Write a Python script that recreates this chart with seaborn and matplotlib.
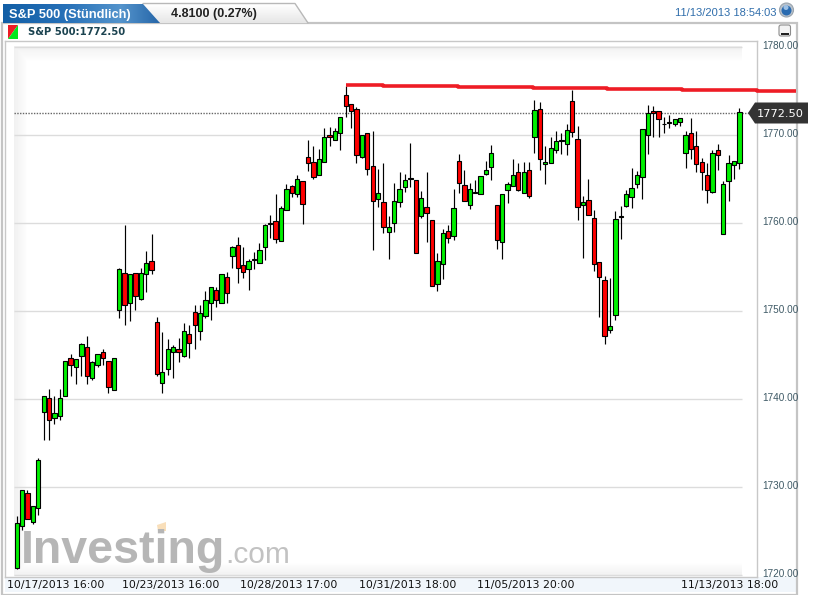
import numpy as np
import pandas as pd
import seaborn as sns
import matplotlib.pyplot as plt
from matplotlib.patches import Polygon, Rectangle, Circle, FancyBboxPatch
from matplotlib.transforms import ScaledTranslation

# Hourly candles
opens = [1720.8,1725.6,1729.3,1726.1,1727.6,1738.6,1740.2,1737.85,1738.15,1740.35,
         1744.65,1743.7,1744.9,1745.9,1742.4,1743.85,1745.35,1744.4,1741.1,1750.2,
         1754.4,1750.9,1754.4,1751.35,1754.2,1755.7,1748.75,1741.8,1743.4,1745.41,
         1745.68,1744.88,1747.38,1749.88,1747.72,1749.43,1750.9,1752.38,1750.9,1753.86,
         1756.24,1757.49,1755.22,1754.77,1755.79,1755.45,1757.27,1759.96,1760.22,1757.95,
         1761.47,1764.2,1763.29,1764.77,1767.49,1766.92,1765.45,1766.92,1769.99,1769.42,
         1770.22,1774.54,1773.51,1772.95,1767.49,1770.22,1766.47,1762.72,1762.38,1758.97,
         1759.99,1762.38,1764.08,1765.07,1764.88,1760.79,1761.81,1760.33,1753.06,1755.33,
         1759.08,1758.51,1767.04,1764.31,1762.04,1763.48,1763.29,1765.56,1766.36,1762.04,
         1757.87,1763.74,1764.2,1765.79,1763.4,1766.01,1769.76,1772.95,1766.7,1766.81,
         1768.29,1769.39,1768.97,1773.86,1769.54,1762.04,1762.61,1760.56,1755.56,1753.51,
         1747.83,1749.54,1760.75,1761.92,1762.95,1764.42,1765.22,1769.99,1772.72,1772.72,
         1771.28,1771.43,1771.24,1771.47,1767.95,1770.22,1768.74,1766.92,1765.45,1763.51,
         1768.29,1758.74,1764.76,1766.58,1766.81]
closes = [1725.9,1729.65,1726.35,1727.85,1733.05,1740.35,1737.6,1738.4,1740.2,1744.4,
          1743.85,1744.55,1746.25,1742.7,1744.2,1745.2,1744.65,1741.35,1744.65,1754.75,
          1750.7,1754.2,1751.7,1754.4,1755.45,1754.7,1742.85,1743.15,1745.7,1745.9,
          1745.41,1747.72,1746.36,1748.4,1749.77,1751.24,1752.72,1751.24,1754.2,1752.04,
          1757.27,1754.88,1754.43,1755.68,1755.9,1756.93,1759.77,1760.0,1758.18,1761.7,
          1763.93,1763.4,1765.0,1762.15,1766.81,1765.22,1767.26,1769.76,1769.76,1770.45,
          1772.04,1773.29,1772.72,1767.72,1769.99,1766.13,1762.49,1763.4,1759.54,1759.54,
          1762.49,1763.86,1764.88,1765.11,1756.58,1762.83,1761.13,1752.83,1755.67,1758.86,
          1758.29,1761.7,1764.54,1762.49,1763.86,1763.51,1765.33,1766.01,1767.95,1758.06,
          1763.29,1764.42,1765.45,1763.74,1765.79,1763.06,1772.83,1767.26,1766.92,1768.51,
          1769.31,1769.42,1770.56,1770.33,1761.81,1762.38,1760.9,1755.33,1753.86,1747.15,
          1748.29,1760.45,1760.79,1763.29,1763.97,1765.45,1770.68,1772.49,1772.49,1771.81,
          1771.32,1771.47,1771.81,1771.92,1769.99,1768.4,1766.7,1765.79,1763.74,1767.95,
          1767.72,1764.42,1766.81,1767.04,1772.61]
highs = [1726.7,1729.65,1729.65,1727.85,1733.3,1740.35,1741.15,1740.35,1741.15,1744.4,
         1745.2,1744.55,1746.35,1747.2,1744.3,1745.2,1745.7,1744.4,1744.65,1754.9,
         1759.75,1754.2,1754.4,1754.9,1756.9,1758.75,1749.3,1747.7,1746.9,1746.17,
         1746.93,1748.71,1748.4,1750.71,1750.71,1752.27,1752.72,1752.72,1754.2,1754.43,
         1757.38,1758.4,1757.27,1755.9,1756.7,1757.72,1759.88,1760.9,1763.29,1761.93,
         1764.43,1764.35,1765.45,1764.77,1769.46,1768.74,1768.44,1770.79,1770.98,1770.79,
         1772.04,1775.56,1773.51,1773.17,1769.99,1770.22,1770.45,1766.13,1766.81,1760.83,
         1764.54,1765.86,1765.56,1769.08,1764.88,1763.63,1765.86,1760.33,1756.58,1759.31,
         1759.84,1763.86,1767.83,1766.01,1764.54,1764.92,1765.33,1767.04,1768.86,1762.04,
         1763.29,1764.73,1767.26,1766.81,1766.92,1766.92,1774.01,1773.74,1768.74,1769.76,
         1770.45,1770.22,1771.24,1775.11,1771.01,1763.06,1765.07,1761.47,1755.56,1753.97,
         1753.74,1761.36,1761.92,1763.74,1766.24,1765.9,1770.68,1773.48,1773.29,1772.72,
         1772.11,1772.26,1771.81,1771.92,1770.45,1771.92,1770.45,1767.38,1766.81,1768.29,
         1768.97,1764.76,1767.72,1767.04,1773.06]
lows = [1720.7,1725.15,1726.35,1725.85,1726.85,1735.35,1735.35,1737.2,1737.65,1740.35,
        1742.7,1741.7,1742.7,1741.7,1742.2,1743.7,1743.85,1740.7,1741.1,1749.2,
        1748.45,1748.9,1750.2,1751.25,1752.2,1754.2,1742.6,1740.68,1742.76,1742.38,
        1744.27,1744.84,1744.73,1745.75,1746.7,1749.2,1748.97,1750.45,1750.9,1750.9,
        1754.96,1753.25,1753.74,1752.42,1754.77,1755.45,1755.79,1758.29,1757.72,1757.95,
        1761.47,1762.95,1763.02,1759.96,1765.98,1764.99,1765.45,1766.92,1768.74,1769.42,
        1768.29,1772.04,1770.79,1766.81,1767.38,1765.45,1756.92,1761.81,1758.86,1755.9,
        1759.05,1761.89,1763.55,1764.08,1756.58,1760.56,1757.87,1752.83,1752.34,1753.63,
        1757.72,1758.06,1763.4,1762.49,1761.58,1763.4,1763.29,1765.48,1764.88,1757.04,
        1755.9,1762.26,1764.2,1763.63,1763.4,1762.83,1767.95,1766.01,1764.42,1766.81,
        1768.02,1767.83,1767.72,1769.84,1760.33,1756.01,1760.9,1754.54,1749.31,1746.28,
        1747.49,1749.01,1758.25,1761.81,1761.73,1763.97,1762.8,1767.83,1769.76,1769.76,
        1770.3,1770.79,1771.01,1771.01,1766.24,1767.26,1765.79,1763.74,1762.26,1763.4,
        1766.0,1758.74,1762.49,1765.07,1766.13]

# Red stepped trend line
trend_x = [61, 67.9, 81.8, 95.7, 109.5, 123.4, 137.2, 144.5]
trend_y = [1775.67, 1775.56, 1775.45, 1775.33, 1775.22, 1775.1, 1775.0, 1775.0]

y_ticks = [1720, 1730, 1740, 1750, 1760, 1770, 1780]
date_ticks = [7.2, 28.5, 50.4, 72.5, 94.4, 132.1]
date_labels = ['10/17/2013 16:00', '10/23/2013 16:00', '10/28/2013 17:00',
               '10/31/2013 18:00', '11/05/2013 20:00', '11/13/2013 18:00']
last_price = 1772.50
change_text = '4.8100 (0.27%)'
stamp_text = '11/13/2013 18:54:03'

W, H = 816, 595
sns.set_theme(style='white')
plt.rcParams['font.family'] = ['Liberation Sans', 'DejaVu Sans']

df = pd.DataFrame({'i': range(len(opens)), 'open': opens, 'close': closes,
                   'high': highs, 'low': lows})
df['bottom'] = df[['open', 'close']].min(axis=1)
df['height'] = (df['close'] - df['open']).abs()
up = df[df['close'] >= df['open']]
down = df[df['close'] < df['open']]

fig = plt.figure(figsize=(W / 100, H / 100), dpi=100, facecolor='white')


def pixel_axes(zorder):
    a = fig.add_axes([0, 0, 1, 1], zorder=zorder)
    a.set_xlim(0, W)
    a.set_ylim(H, 0)
    a.axis('off')
    return a


# Page furniture behind the chart
bg = pixel_axes(0)
bg.add_patch(Rectangle((5, 577), 791, 15, fc='#f1f6fb', ec='none'))
bg.add_patch(Rectangle((2, 23), 795, 572, fc='none', ec='#c4c4c4', lw=1.6))

# soft shading along the plot edges
gx, gy = np.meshgrid(np.linspace(0, 1, 728), np.linspace(0, 1, 530))
shade = np.maximum.reduce([np.clip(1 - gx * 728 / 14, 0, 1),
                           np.clip(1 - gy * 530 / 16, 0, 1),
                           np.clip(1 - (1 - gy) * 530 / 14, 0, 1)])
bg.imshow(1 - 0.055 * shade, cmap='gray', vmin=0, vmax=1, extent=(14, 742, 576, 46),
          aspect='auto', zorder=0.5)
bg.set_xlim(0, W)
bg.set_ylim(H, 0)

# Watermark
bg.text(21, 563, 'Investing', fontsize=33.5, fontweight='bold', color='#b6b6b6', va='baseline')
bg.text(225, 563, '.com', fontsize=21.5, color='#c2c2c2', va='baseline')
bg.add_patch(Polygon([(157, 525), (166, 522), (166, 531), (158, 531)], fc='#f9dfba', ec='none'))

# Tabs
grey_tab = Polygon([(143, 4), (295, 4), (308, 23), (160, 23)], fc='none', ec='none')
bg.add_patch(grey_tab)
bg.imshow(np.linspace(1, 0.9, 20).reshape(-1, 1), cmap='gray', vmin=0, vmax=1,
          extent=(143, 308, 23, 4), aspect='auto', clip_path=grey_tab, zorder=1)
bg.plot([143, 295, 308], [3.5, 3.5, 23], color='#b8b8b8', lw=1, zorder=1.1)
blue_tab = Polygon([(3, 4), (143, 4), (160, 23), (3, 23)], fc='none', ec='none')
bg.add_patch(blue_tab)
blue_row = np.array([[0.07, 0.37, 0.65], [0.15, 0.44, 0.72], [0.33, 0.58, 0.80], [0.15, 0.40, 0.66]])
blue_img = np.stack([np.interp(np.linspace(0, 1, 160), [0, 0.4, 0.75, 1], blue_row[:, c]) for c in range(3)], axis=-1)
bg.imshow(blue_img[np.newaxis, :, :], extent=(3, 160, 23, 4), aspect='auto', clip_path=blue_tab, zorder=1.2)
bg.set_xlim(0, W)
bg.set_ylim(H, 0)
bg.text(9, 18, 'S&P 500 (Stündlich)', fontsize=9.3, fontweight='bold', color='white', va='baseline', zorder=2)
bg.text(171, 17.5, change_text, fontsize=9, fontweight='bold', color='#222222', va='baseline', zorder=2)
bg.text(675, 16, stamp_text, fontsize=8, color='#2f6dab', va='baseline', zorder=2)

# Legend row and buttons
bg.add_patch(Polygon([(8, 25), (18, 25), (8, 39)], fc='#ee1c25', ec='none'))
bg.add_patch(Polygon([(18, 25), (18, 39), (8, 39)], fc='#00e81c', ec='none'))
bg.text(28, 35, f'S&P 500:{last_price:.2f}', fontsize=7.2, fontweight='bold', family='DejaVu Sans',
        color='#1b4350', va='baseline')
bg.add_patch(Circle((786.5, 10), 7, fc='#b9c2cc', ec='#9aa4ad', lw=0.8))
bg.add_patch(Circle((786.5, 10.5), 5, fc='#2a6bb0', ec='none'))
bg.add_patch(Circle((786, 7.5), 2.5, fc='#9cc0e4', ec='none'))
bg.add_patch(FancyBboxPatch((779, 25), 11.5, 11, boxstyle='round,pad=0,rounding_size=2',
                            fc='#f3f3f3', ec='#8d8d8d', lw=0.8))
bg.add_patch(Rectangle((780.5, 32.5), 8.5, 2, fc='#222222', ec='none'))

# The chart itself, placed so the frame lands where it does in the picture
ax = fig.add_axes([4.7 / W, 1 - 576.7 / H, 752 / W, 536.2 / H], zorder=1, facecolor='none')

ax.hlines(y_ticks, -0.5, 134.4, color='#dcdcdc', lw=1, zorder=1)
ax.hlines(last_price, -0.5, 136, color='#666666', lw=1, linestyles=(0, (1, 1)), zorder=1.5)
ax.vlines(df['i'], df['low'], df['high'], color='black', lw=0.85, zorder=2)

sns.barplot(data=up, x='i', y='height', bottom=up['bottom'].to_numpy(), native_scale=True, width=0.8,
            color='#00f000', saturation=1, edgecolor='black', linewidth=0.8, errorbar=None, zorder=3, ax=ax)
sns.barplot(data=down, x='i', y='height', bottom=down['bottom'].to_numpy(), native_scale=True, width=0.8,
            color='#ff0000', saturation=1, edgecolor='black', linewidth=0.8, errorbar=None, zorder=3, ax=ax)

trend = pd.DataFrame({'x': trend_x, 'y': trend_y})
sns.lineplot(data=trend, x='x', y='y', drawstyle='steps-post', estimator=None, color='#ee1c25',
             lw=2.6, clip_on=False, solid_capstyle='butt', zorder=4, ax=ax)

ax.set_xlim(-2.225, 137.2)
ax.set_ylim(1719.84, 1780.77)
ax.set_xlabel('')
ax.set_ylabel('')
ax.set_xticks(date_ticks)
ax.set_xticklabels(date_labels, family='DejaVu Sans', fontsize=7.8, color='#111111')
ax.yaxis.tick_right()
ax.set_yticks(y_ticks)
ax.set_yticklabels([f'{v:.2f}' for v in y_ticks], fontsize=7.2, color='#3f5a66')
ax.tick_params(axis='both', length=0)
ax.tick_params(axis='x', pad=2.5)
ax.tick_params(axis='y', pad=4)
# the price labels sit a little above their grid lines
nudge = ScaledTranslation(0, 1.5 / 100, fig.dpi_scale_trans)
for label in ax.get_yticklabels():
    label.set_verticalalignment('center')
    label.set_transform(label.get_transform() + nudge)
for side in ax.spines.values():
    side.set_color('#c8c8c8')
    side.set_linewidth(1)

# Price tag on top of everything
fg = pixel_axes(2)
fg.add_patch(Polygon([(748, 113), (755, 102.5), (808, 102.5), (808, 123.5), (755, 123.5)],
                     fc='#333333', ec='none'))
fg.text(757, 117, f'{last_price:.2f}', fontsize=8.2, family='DejaVu Sans', color='white', va='baseline')

fig.savefig('out.png', dpi=100)
